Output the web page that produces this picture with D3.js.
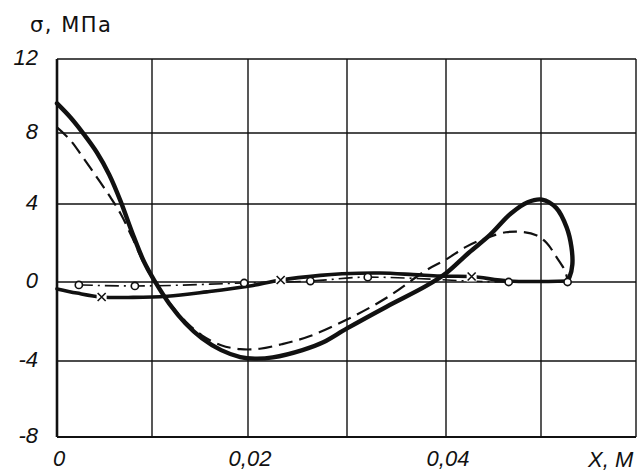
<!DOCTYPE html>
<html>
<head>
<meta charset="utf-8">
<script src="https://cdn.jsdelivr.net/npm/d3@7"></script>
<style>
  body { margin: 0; background: #fff; }
  svg { display: block; }
</style>
</head>
<body>
<div id="chart"></div>
<script>
// grid / tick values
var xGrid = [0, 0.01, 0.02, 0.03, 0.04, 0.05, 0.06];
var yGrid = [-8, -4, 0, 4, 8, 12];
var xTicks = [0, 0.02, 0.04];
var xTickLabels = ["0", "0,02", "0,04"];
var yTicks = [12, 8, 4, 0, -4, -8];

// heavy solid curve
var solidX = [0, 0.0014, 0.0028, 0.0042, 0.0055, 0.0067, 0.0079, 0.0092, 0.0104, 0.0118, 0.0135, 0.0152, 0.0172, 0.0192, 0.0207, 0.0225, 0.0255, 0.0276, 0.030, 0.034, 0.038, 0.040, 0.0424, 0.0446, 0.0468, 0.0486, 0.0501, 0.0516, 0.0527, 0.0532, 0.0533, 0.0530, 0.0528];
var solidY = [9.6, 8.85, 7.95, 6.9, 5.65, 4.15, 2.55, 1.0, -0.05, -1.1, -2.1, -2.85, -3.45, -3.8, -3.88, -3.82, -3.45, -3.05, -2.35, -1.25, -0.2, 0.45, 1.5, 2.4, 3.5, 4.1, 4.25, 3.8, 2.8, 1.8, 0.9, 0.25, 0.1];

// dashed curve
var dashX = [0, 0.0014, 0.0027, 0.0042, 0.0056, 0.0067, 0.0079, 0.0092, 0.0103, 0.0118, 0.0135, 0.0152, 0.0172, 0.0192, 0.0212, 0.0234, 0.0262, 0.030, 0.034, 0.038, 0.040, 0.0421, 0.0442, 0.0463, 0.048, 0.0495, 0.0506, 0.0516, 0.0525, 0.0528];
var dashY = [8.3, 7.6, 6.65, 5.5, 4.4, 3.5, 2.3, 0.9, 0, -1.05, -2.0, -2.7, -3.2, -3.4, -3.38, -3.15, -2.75, -1.9, -0.8, 0.6, 1.15, 1.8, 2.25, 2.55, 2.57, 2.4, 2.0, 1.3, 0.6, 0.1];

// heavy curve near zero, with crosses
var crossLineX = [0, 0.0021, 0.0047, 0.008, 0.0116, 0.0157, 0.020, 0.0233, 0.0273, 0.0295, 0.0333, 0.0367, 0.0394, 0.0427, 0.0466, 0.0528];
var crossLineY = [-0.35, -0.56, -0.76, -0.78, -0.72, -0.5, -0.22, 0.1, 0.34, 0.42, 0.46, 0.38, 0.3, 0.28, 0.05, 0.05];
var crossX = [0.0047, 0.0233, 0.0427];
var crossY = [-0.76, 0.1, 0.28];

// dash-dot curve with circles
var circleX = [0.0023, 0.0082, 0.0196, 0.0263, 0.0321, 0.0466, 0.0528];
var circleY = [-0.15, -0.2, -0.05, 0.05, 0.25, 0, 0];

var w = 639, h = 472;

var svg = d3.select("#chart").append("svg")
    .attr("width", w)
    .attr("height", h);

// hand drawn grid is not quite even
var x = d3.scaleLinear()
    .domain(xGrid)
    .range([57, 152, 248, 347, 446, 541, 636]);
var y = d3.scaleLinear()
    .domain(yGrid)
    .range([437, 361, 282, 204, 133, 59]);

// grid
svg.selectAll("line.vgrid")
    .data(xGrid)
    .enter()
    .append("line")
    .attr("class", "vgrid")
    .attr("x1", function(d) { return x(d); })
    .attr("x2", function(d) { return x(d); })
    .attr("y1", y(12))
    .attr("y2", y(-8))
    .attr("stroke", "#111")
    .attr("stroke-width", function(d, i) { return i == 0 ? 2.6 : 1.4; });

svg.selectAll("line.hgrid")
    .data(yGrid)
    .enter()
    .append("line")
    .attr("class", "hgrid")
    .attr("x1", x(0))
    .attr("x2", x(0.06))
    .attr("y1", function(d) { return y(d); })
    .attr("y2", function(d) { return y(d); })
    .attr("stroke", "#111")
    .attr("stroke-width", function(d) { return d == -8 ? 2 : 1.4; });

function pts(xs, ys) {
    return xs.map(function(v, i) { return [v, ys[i]]; });
}

var line = d3.line()
    .x(function(d) { return x(d[0]); })
    .y(function(d) { return y(d[1]); })
    .curve(d3.curveCatmullRom.alpha(0.5));

// dash-dot curve
svg.append("path")
    .attr("d", line.curve(d3.curveMonotoneX)(pts(circleX, circleY)))
    .attr("fill", "none")
    .attr("stroke", "#111")
    .attr("stroke-width", 1.6)
    .attr("stroke-dasharray", "14,5,2,5");

line.curve(d3.curveCatmullRom.alpha(0.5));

// heavy curve with crosses
svg.append("path")
    .attr("d", line(pts(crossLineX, crossLineY)))
    .attr("fill", "none")
    .attr("stroke", "#111")
    .attr("stroke-width", 3.6)
    .attr("stroke-linecap", "round");

// dashed curve
svg.append("path")
    .attr("d", line(pts(dashX, dashY)))
    .attr("fill", "none")
    .attr("stroke", "#111")
    .attr("stroke-width", 2.2)
    .attr("stroke-dasharray", "14,7");

// heavy solid curve
svg.append("path")
    .attr("d", line(pts(solidX, solidY)))
    .attr("fill", "none")
    .attr("stroke", "#111")
    .attr("stroke-width", 4.4)
    .attr("stroke-linecap", "round");

// cross markers
var crosses = svg.selectAll("g.cross")
    .data(pts(crossX, crossY))
    .enter()
    .append("g")
    .attr("class", "cross")
    .attr("transform", function(d) { return "translate(" + x(d[0]) + "," + y(d[1]) + ")"; });
crosses.append("rect")
    .attr("x", -5).attr("y", -5).attr("width", 10).attr("height", 10)
    .attr("fill", "#fff");
crosses.append("path")
    .attr("d", "M-4,-4L4,4M-4,4L4,-4")
    .attr("stroke", "#111")
    .attr("stroke-width", 1.6);

// circle markers
svg.selectAll("circle.mark")
    .data(pts(circleX, circleY))
    .enter()
    .append("circle")
    .attr("class", "mark")
    .attr("cx", function(d) { return x(d[0]); })
    .attr("cy", function(d) { return y(d[1]); })
    .attr("r", 3.6)
    .attr("fill", "#fff")
    .attr("stroke", "#111")
    .attr("stroke-width", 1.6);

// tick labels
svg.selectAll("text.ytick")
    .data(yTicks)
    .enter()
    .append("text")
    .attr("class", "ytick")
    .text(function(d) { return d; })
    .attr("text-anchor", "end")
    .attr("x", 38)
    .attr("y", function(d) { return y(d) + 6; })
    .attr("font-family", "Liberation Sans, sans-serif")
    .attr("font-style", "italic")
    .attr("font-size", "22px")
    .attr("fill", "#111");

svg.selectAll("text.xtick")
    .data(xTicks)
    .enter()
    .append("text")
    .attr("class", "xtick")
    .text(function(d, i) { return xTickLabels[i]; })
    .attr("text-anchor", "middle")
    .attr("x", function(d) { return x(d) + 2; })
    .attr("y", 466)
    .attr("font-family", "Liberation Sans, sans-serif")
    .attr("font-style", "italic")
    .attr("font-size", "22px")
    .attr("fill", "#111");

// axis titles
svg.append("text")
    .text("σ, МПа")
    .attr("x", 30)
    .attr("y", 32)
    .attr("font-family", "DejaVu Sans, sans-serif")
    .attr("font-size", "21px")
    .attr("letter-spacing", "1.5px")
    .attr("fill", "#111");

svg.append("text")
    .text("X, M")
    .attr("x", 588)
    .attr("y", 467)
    .attr("font-family", "Liberation Sans, sans-serif")
    .attr("font-style", "italic")
    .attr("font-size", "22px")
    .attr("fill", "#111");
</script>
</body>
</html>
